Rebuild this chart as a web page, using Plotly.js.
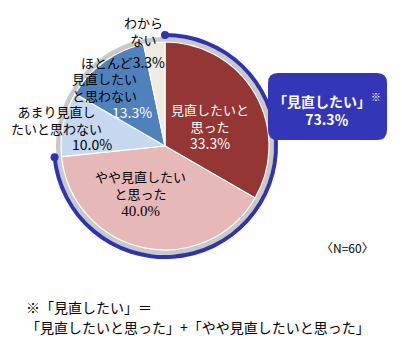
<!DOCTYPE html>
<html><head><meta charset="utf-8">
<script src="https://cdn.plot.ly/plotly-3.0.1.min.js"></script>
<style>body{margin:0;background:#fff}</style>
</head><body><div id="chart" style="width:402px;height:362px"></div>
<script>
const categories = ['見直したいと思った','やや見直したいと思った','あまり見直したいと思わない','ほとんど見直したいと思わない','わからない'];
const shares = [33.3, 40.0, 10.0, 13.3, 3.3];
const sliceColors = ['#943634','#E6B9B8','#C6D9F1','#4F81BD','#EEECE1'];
const sampleSize = 60;

const W = 402, H = 362;
const cx = 165, cy = 146, R = 104;
const px = x => x / W;
const py = y => 1 - y / H;
const dom = r => ({x: [px(cx - r), px(cx + r)], y: [py(cy + r), py(cy - r)]});
const total = shares.reduce((a, b) => a + b, 0);
const wantShare = Math.round((shares[0] + shares[1]) * 10) / 10;
const rest = total - wantShare;
const JP = '"Noto Sans CJK JP", "Noto Sans", sans-serif';

const traces = [
  {type: 'pie', values: [1], marker: {colors: ['#c9c9c9'], line: {width: 0}}, domain: dom(109), hole: (R) / 109,
   textinfo: 'none', hoverinfo: 'skip', sort: false, showlegend: false},
  {type: 'pie', values: [wantShare, rest], marker: {colors: ['#2F33AE', 'rgba(0,0,0,0)'], line: {width: 0}},
   domain: dom(113), hole: 109 / 113, direction: 'clockwise', sort: false, textinfo: 'none', hoverinfo: 'skip', showlegend: false},
  {type: 'pie', labels: categories, values: shares, marker: {colors: sliceColors, line: {color: '#ffffff', width: 1.2}},
   domain: dom(R), direction: 'clockwise', sort: false, textinfo: 'none', showlegend: false}
];

// dots at ends of the arc
const arcR = 111;
function dot(fracDeg) {
  const t = fracDeg * Math.PI / 180;
  const x = cx + arcR * Math.sin(t), y = cy - arcR * Math.cos(t);
  return {type: 'circle', xref: 'paper', yref: 'paper', x0: px(x - 4), x1: px(x + 4), y0: py(y + 4), y1: py(y - 4),
          fillcolor: '#2F33AE', line: {width: 0}};
}
function roundRect(x0, y0, x1, y1, r) {
  const P = (x, y) => px(x) + ',' + py(y);
  return 'M' + P(x0 + r, y0) + ' L' + P(x1 - r, y0) + ' Q' + P(x1, y0) + ' ' + P(x1, y0 + r) +
    ' L' + P(x1, y1 - r) + ' Q' + P(x1, y1) + ' ' + P(x1 - r, y1) +
    ' L' + P(x0 + r, y1) + ' Q' + P(x0, y1) + ' ' + P(x0, y1 - r) +
    ' L' + P(x0, y0 + r) + ' Q' + P(x0, y0) + ' ' + P(x0 + r, y0) + ' Z';
}
const shapes = [
  dot(0),
  dot(wantShare / total * 360),
  {type: 'path', xref: 'paper', yref: 'paper', path: roundRect(268, 73, 387, 140, 10), fillcolor: '#3436B8', line: {width: 0}}
];

const fmt = v => v.toFixed(1) + '%';
const big = t => '<span style="font-size:14px">' + t + '</span>';
function ann(text, x, y, size, color, extra) {
  return Object.assign({text: text, x: px(x), y: py(y), xref: 'paper', yref: 'paper', xanchor: 'center', yanchor: 'middle',
    showarrow: false, align: 'center', borderpad: 0, font: {family: JP, size: size, color: color}}, extra || {});
}
const annotations = [
  ann(categories[0].slice(0, 6) + '<br>' + categories[0].slice(6) + '<br>' + big(fmt(shares[0])), 210, 126, 13, '#ffffff'),
  ann(categories[1].slice(0, 7) + '<br>' + categories[1].slice(7) + '<br>' +
      '<span style="font-family:Liberation Serif, serif;font-size:15px">' + fmt(shares[1]) + '</span>', 140, 193, 13, '#000000'),
  ann(categories[2].slice(0, 6) + '<br>' + categories[2].slice(6), 56, 120, 13, '#000000'),
  ann(fmt(shares[2]), 92, 144, 14, '#000000'),
  ann(categories[3].slice(0, 4) + big(fmt(shares[4])), 123, 62, 13, '#000000'),
  ann(categories[3].slice(4, 9) + '<br>' + categories[3].slice(9), 105, 87.5, 13, '#000000'),
  ann(fmt(shares[3]), 132, 112, 14, '#ffffff'),
  ann(categories[4].slice(0, 3) + '<br>' + categories[4].slice(3), 143, 31, 13, '#000000'),
  ann('<b>「見直したい」</b><sup>※</sup><br><b>' + wantShare.toFixed(1) + '％</b>', 327, 109, 14, '#ffffff'),
  ann('〈N=' + sampleSize + '〉', 347, 247, 12, '#000000'),
  ann('※「見直したい」＝', 25, 307, 14, '#000000', {xanchor: 'left', align: 'left'}),
  ann('「' + categories[0] + '」+「' + categories[1] + '」', 25, 327, 14, '#000000', {xanchor: 'left', align: 'left'})
];

Plotly.newPlot('chart', traces, {
  width: W, height: H, margin: {l: 0, r: 0, t: 0, b: 0},
  paper_bgcolor: '#ffffff', showlegend: false,
  shapes: shapes, annotations: annotations
}, {staticPlot: true});
</script></body></html>
